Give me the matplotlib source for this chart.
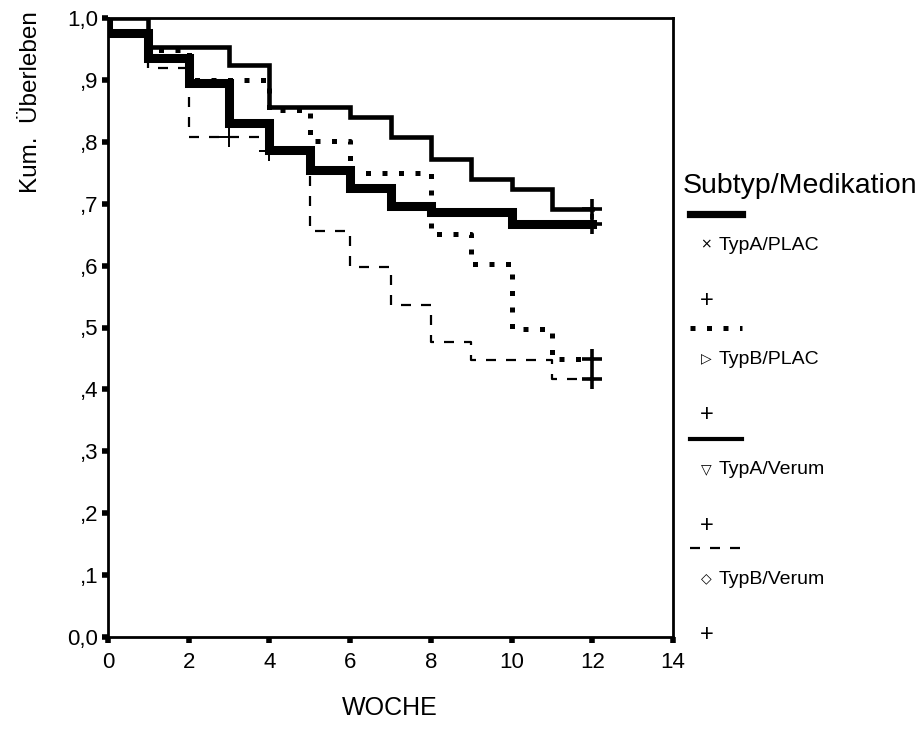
import matplotlib
matplotlib.use("Agg")
import matplotlib.pyplot as plt
from matplotlib.lines import Line2D

plt.rcParams["font.family"] = ["Liberation Sans", "DejaVu Sans"]

# Kaplan-Meier step curves (week, cumulative survival)
weeks_a_plac = [0, 0, 1, 2, 3, 4, 5, 6, 7, 8, 10, 12]
surv_a_plac = [1.0, 0.975, 0.935, 0.895, 0.83, 0.786, 0.754, 0.726, 0.697, 0.686, 0.668, 0.668]

weeks_b_plac = [0, 0, 1, 2, 4, 5, 6, 8, 9, 10, 11, 12]
surv_b_plac = [1.0, 0.975, 0.948, 0.90, 0.851, 0.802, 0.75, 0.651, 0.603, 0.497, 0.449, 0.449]

weeks_a_verum = [0, 1, 3, 4, 6, 7, 8, 9, 10, 11, 12]
surv_a_verum = [1.0, 0.953, 0.924, 0.856, 0.84, 0.807, 0.773, 0.74, 0.724, 0.692, 0.692]

weeks_b_verum = [0, 0, 1, 2, 4, 5, 6, 7, 8, 9, 11, 12]
surv_b_verum = [1.0, 0.975, 0.92, 0.807, 0.785, 0.656, 0.597, 0.537, 0.477, 0.447, 0.417, 0.417]

# censored observations
cens_a_plac = ([12], [0.668])
cens_b_plac = ([12], [0.449])
cens_a_verum = ([12], [0.692])
cens_b_verum = ([3, 4, 12], [0.807, 0.785, 0.417])

group_labels = ["TypA/PLAC", "TypB/PLAC", "TypA/Verum", "TypB/Verum"]
group_symbols = ["×", "▷", "▽", "◇"]
x_ticks = [0, 2, 4, 6, 8, 10, 12, 14]
y_ticks = [0.0, 0.1, 0.2, 0.3, 0.4, 0.5, 0.6, 0.7, 0.8, 0.9, 1.0]
y_ticklabels = ["0,0", ",1", ",2", ",3", ",4", ",5", ",6", ",7", ",8", ",9", "1,0"]

W, H = 924, 740
fig = plt.figure(figsize=(W / 100, H / 100), dpi=100)
ax = fig.add_axes([108 / W, 1 - 637 / H, (673 - 108) / W, (637 - 18) / H])

styles = [
    dict(color="black", lw=6.5, ls="-", solid_joinstyle="miter"),
    dict(color="black", lw=3.6, ls=(0, (1, 2.3)), dash_capstyle="butt"),
    dict(color="black", lw=3.3, ls="-", solid_joinstyle="miter"),
    dict(color="black", lw=1.6, ls=(0, (4.5, 4.5)), dash_capstyle="butt"),
]
curves = [
    (weeks_a_plac, surv_a_plac, cens_a_plac),
    (weeks_b_plac, surv_b_plac, cens_b_plac),
    (weeks_a_verum, surv_a_verum, cens_a_verum),
    (weeks_b_verum, surv_b_verum, cens_b_verum),
]
for (wx, sy, cens), st in zip(curves, styles):
    ax.plot(wx, sy, drawstyle="steps-post", **st)
for i, (wx, sy, cens) in enumerate(curves):
    for cx, cy in zip(*cens):
        mew = 1.4 if (i == 3 and cx < 12) else 2.6
        ax.plot([cx], [cy], marker="+", ms=15, mew=mew, color="black", ls="none")

ax.set_xlim(0, 14)
ax.set_ylim(0, 1.0)
ax.set_xticks(x_ticks)
ax.set_xticklabels([str(t) for t in x_ticks])
ax.set_yticks(y_ticks)
ax.set_yticklabels(y_ticklabels)
ax.tick_params(direction="out", length=4, width=4, labelsize=16)
ax.tick_params(axis="x", pad=7)
ax.tick_params(axis="y", pad=3)
for sp in ax.spines.values():
    sp.set_linewidth(2)

fig.text(390 / W, 1 - 708 / H, "WOCHE", ha="center", va="center", fontsize=18)
fig.text(31 / W, 1 - 102 / H, "Kum.  Überleben", ha="center", va="center",
         rotation=90, fontsize=17.5)


def fx(x):
    return x / W


def fy(y):
    return 1 - y / H


# legend drawn beside the axes
fig.text(fx(683), fy(186), "Subtyp/Medikation", ha="left", va="center", fontsize=20.5)
entry_tops = [214, 328, 439, 548]
for k, (lab, sym, st) in enumerate(zip(group_labels, group_symbols, styles)):
    y0 = entry_tops[k]
    lw = {0: 5.2, 1: 3.6, 2: 3.0, 3: 1.6}[k]
    st2 = dict(st)
    st2["lw"] = lw
    fig.add_artist(Line2D([fx(690), fx(742)], [fy(y0), fy(y0)], transform=fig.transFigure, **st2))
    fig.text(fx(706), fy(y0 + 30), sym, ha="center", va="center", fontsize=10,
             family=["DejaVu Sans"])
    fig.text(fx(719), fy(y0 + 31), lab, ha="left", va="center", fontsize=14)
    fig.text(fx(707), fy(y0 + 87), "+", ha="center", va="center", fontsize=17)

fig.savefig("out.png", dpi=100)
